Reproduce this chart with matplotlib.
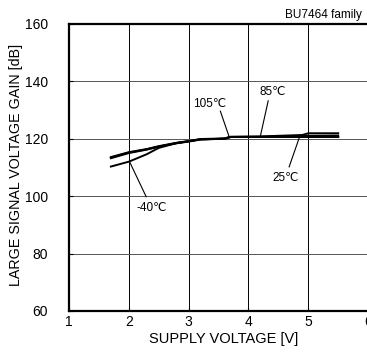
import numpy as np
import matplotlib.pyplot as plt

plt.rcParams['font.family'] = ['Liberation Sans', 'DejaVu Sans']

# supply voltage [V] and gain [dB]
v_m40 = [1.7, 2.0, 2.3, 2.5, 2.8, 3.0, 3.2, 3.6, 3.7, 4.0, 5.0, 5.5]
g_m40 = [110.3, 112.0, 114.6, 116.8, 118.5, 119.1, 119.8, 120.0, 120.6, 120.6, 120.6, 120.6]

v_25 = [1.7, 2.0, 2.3, 2.5, 2.8, 3.0, 3.2, 3.6, 3.7, 4.0, 4.8, 5.5]
g_25 = [113.4, 115.2, 116.3, 117.3, 118.5, 119.1, 119.8, 120.0, 120.6, 120.6, 120.6, 120.6]

v_85 = [1.7, 2.0, 2.3, 2.5, 2.8, 3.0, 3.2, 3.6, 3.7, 4.2, 4.9, 5.0, 5.5]
g_85 = [113.6, 115.3, 116.4, 117.4, 118.6, 119.2, 119.9, 120.1, 120.7, 120.8, 121.3, 121.9, 121.9]

v_105 = [1.7, 2.0, 2.3, 2.5, 2.8, 3.0, 3.2, 3.6, 3.7, 4.2, 4.9, 5.5]
g_105 = [113.2, 115.0, 116.2, 117.2, 118.4, 119.0, 119.7, 120.0, 120.6, 120.7, 121.0, 121.1]

fig = plt.figure(figsize=(3.67, 3.62), dpi=100)
ax = fig.add_axes([0.188, 0.141, 0.815, 0.793])

for v, g in [(v_m40, g_m40), (v_25, g_25), (v_85, g_85), (v_105, g_105)]:
    ax.plot(v, g, c="k", lw=1.4)

ax.set_xlim(1, 6)
ax.set_ylim(60, 160)
ax.set_xticks([1, 2, 3, 4, 5, 6])
ax.set_yticks([60, 80, 100, 120, 140, 160])
ax.grid(axis="x", color="k", lw=0.7)
ax.grid(axis="y", color="#555555", lw=0.7)
for s in ax.spines.values():
    s.set_linewidth(1.6)
ax.tick_params(direction="in", length=3, labelsize=10)
ax.tick_params(axis="x", pad=3)
ax.tick_params(axis="y", pad=15)

ax.set_xlabel("SUPPLY VOLTAGE [V]", fontsize=10.5, va="top")
ax.xaxis.set_label_coords(0.517, -0.075)
ax.set_ylabel("LARGE SIGNAL VOLTAGE GAIN [dB]", fontsize=10.3)
ax.yaxis.set_label_coords(-0.155, 0.51)

fig.text(0.776, 0.958, "BU7464 family", fontsize=8.5, ha="left", va="center")

notes = [("105℃", (3.35, 132.1), (3.53, 129.6), (3.68, 120.5)),
         ("85℃", (4.41, 136.4), (4.33, 133.2), (4.2, 121.0)),
         ("25℃", (4.62, 106.2), (4.68, 110.2), (4.85, 120.4)),
         ("-40℃", (2.39, 96.0), (2.29, 99.8), (2.01, 112.1))]
for txt, pos, p0, p1 in notes:
    ax.text(pos[0], pos[1], txt, fontsize=8.5, ha="center", va="center")
    ax.plot([p0[0], p1[0]], [p0[1], p1[1]], c="k", lw=0.8)

fig.savefig("out.png", dpi=100)
